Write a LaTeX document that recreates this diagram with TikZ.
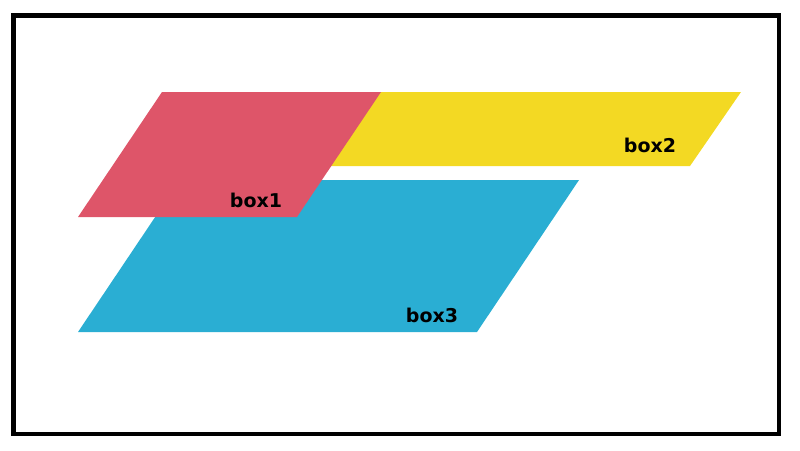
\documentclass[tikz,border=0pt]{standalone}
\usepackage{fontspec}
\setmainfont{DejaVu Sans}
\definecolor{cred}{HTML}{DE5569}
\definecolor{cyel}{HTML}{F3D923}
\definecolor{cblu}{HTML}{2AAED3}
\begin{document}
\begin{tikzpicture}[x=1pt,y=-1pt,
  lbl/.style={anchor=base,font=\fontsize{19}{21}\selectfont\bfseries,text=black,inner sep=0pt}]
\useasboundingbox (0,0) rectangle (800,450);
\draw[line width=4.5pt] (13.5,15.5) rectangle (779,434);
% yellow (back)
\fill[cyel] (212,92) -- (741,92) -- (690,166) -- (162,166) -- cycle;
% blue
\fill[cblu] (180,180) -- (579,180) -- (477,332) -- (78,332) -- cycle;
% red (front)
\fill[cred] (162,92) -- (381,92) -- (297,217) -- (78,217) -- cycle;
\node[lbl] (b1) at (256,207.5) {box1};
\node[lbl] (b2) at (650,152.5) {box2};
\node[lbl] (b3) at (432,322.5) {box3};
\end{tikzpicture}
\end{document}
